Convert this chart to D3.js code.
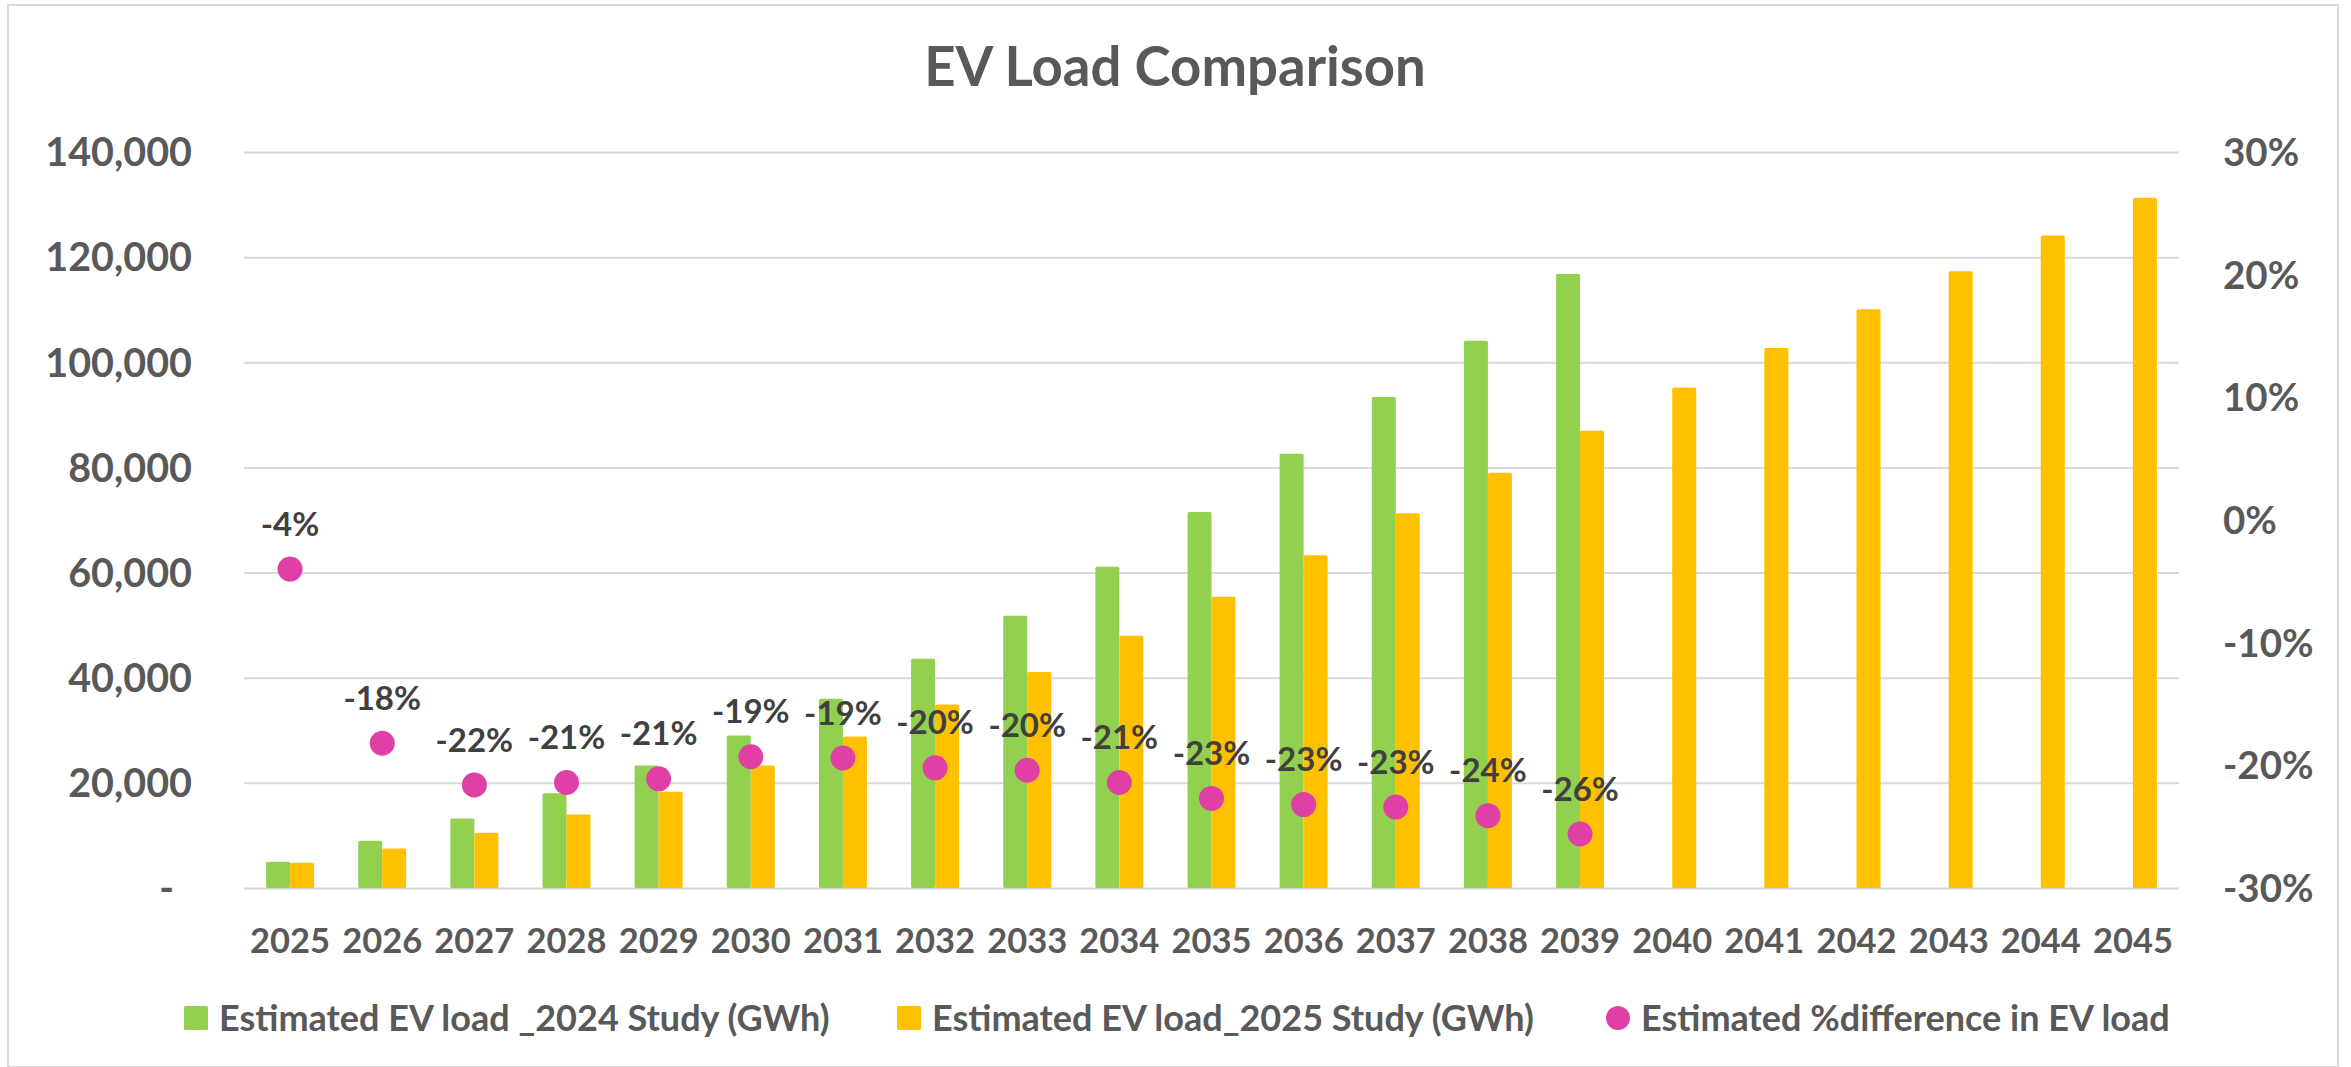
<!DOCTYPE html>
<html><head><meta charset="utf-8">
<script src="https://cdn.jsdelivr.net/npm/d3@7"></script>
<style>
html,body{margin:0;padding:0;background:#fff;}
svg{display:block;font-family:Lato,"Open Sans",sans-serif;}
</style></head><body>
<svg id="chart" width="2351" height="1067"></svg>
<script>
// ---- data ----
const years = ["2025","2026","2027","2028","2029","2030","2031","2032","2033","2034","2035","2036","2037","2038","2039","2040","2041","2042","2043","2044","2045"];
const study2024 = [5000, 9000, 13200, 18000, 23300, 29000, 36000, 43600, 51800, 61100, 71500, 82600, 93400, 104100, 116800, null, null, null, null, null, null];
const study2025 = [4800, 7500, 10500, 14000, 18300, 23300, 28800, 34900, 41100, 48000, 55400, 63300, 71300, 79000, 87000, 95200, 102700, 110100, 117300, 124100, 131300];
const pctDiff = [-4.0, -18.2, -21.6, -21.4, -21.1, -19.3, -19.4, -20.2, -20.4, -21.4, -22.7, -23.2, -23.4, -24.1, -25.6];
const pctLabels = ["-4%","-18%","-22%","-21%","-21%","-19%","-19%","-20%","-20%","-21%","-23%","-23%","-23%","-24%","-26%"];
const leftTicks = [0, 20000, 40000, 60000, 80000, 100000, 120000, 140000];
const rightTicks = [-30, -20, -10, 0, 10, 20, 30];
const seriesNames = ["Estimated EV load _2024 Study (GWh)", "Estimated EV load_2025 Study (GWh)", "Estimated %difference in EV load"];
const title = "EV Load Comparison";

// ---- style ----
const C_GREEN = "#92D050", C_GOLD = "#FFC000", C_PINK = "#E040A6";
const C_AXIS = "#595959", C_LABEL = "#404040", C_GRID = "#D9D9D9";

const m = {left: 244, right: 2179, top: 152, bottom: 888};
const svg = d3.select("#chart");

svg.append("rect").attr("x", 0).attr("y", 0).attr("width", 2351).attr("height", 1067).attr("fill", "#fff");
svg.append("rect").attr("x", 8).attr("y", 5).attr("width", 2330).attr("height", 1062)
  .attr("fill", "#fff").attr("stroke", C_GRID).attr("stroke-width", 2);

const x0 = d3.scaleBand().domain(years).range([m.left, m.right]);
const x1 = d3.scaleBand().domain(["s24", "s25"]).range([0, x0.bandwidth()]).paddingOuter(0.92);
const yL = d3.scaleLinear().domain([0, 140000]).range([m.bottom, m.top]);
const yR = d3.scaleLinear().domain([-30, 30]).range([m.bottom, m.top]);

// gridlines
const grid = svg.append("g").attr("transform", `translate(${m.left},0)`)
  .call(d3.axisLeft(yL).tickValues(leftTicks).tickSize(-(m.right - m.left)).tickFormat(""));
grid.select(".domain").remove();
grid.selectAll("line").attr("stroke", C_GRID).attr("stroke-width", 2);

// left axis labels
const fmt = d3.format(",");
const ax = svg.append("g").attr("transform", `translate(${m.left},0)`)
  .call(d3.axisLeft(yL).tickValues(leftTicks).tickSize(0).tickPadding(52).tickFormat(d => d === 0 ? "-" : fmt(d)));
ax.select(".domain").remove();
ax.selectAll("text").attr("font-family", "Lato, sans-serif").attr("font-weight", "bold").attr("font-size", 39.5)
  .attr("fill", C_AXIS).attr("dy", "0.35em");
ax.selectAll("text").filter(d => d === 0).attr("dx", -18);

// right axis labels
const axR = svg.append("g").attr("transform", `translate(${m.right},0)`)
  .call(d3.axisRight(yR).tickValues(rightTicks).tickSize(0).tickPadding(44).tickFormat(d => d + "%"));
axR.select(".domain").remove();
axR.selectAll("text").attr("font-family", "Lato, sans-serif").attr("font-weight", "bold").attr("font-size", 38.5)
  .attr("fill", C_AXIS).attr("dy", "0.35em");

// x axis labels
const axX = svg.append("g").attr("transform", `translate(0,${m.bottom})`)
  .call(d3.axisBottom(x0).tickSize(0));
axX.select(".domain").remove();
axX.selectAll("text").attr("font-family", "Lato, sans-serif").attr("font-weight", "bold").attr("font-size", 34.5)
  .attr("fill", C_AXIS).attr("y", 65).attr("dy", 0);

// bars
const rows = years.map((y, i) => ({year: y, s24: study2024[i], s25: study2025[i]}));
const barG = svg.append("g");
barG.selectAll("rect.g24").data(rows.filter(r => r.s24 != null)).join("rect").attr("class", "g24")
  .attr("x", d => x0(d.year) + x1("s24")).attr("width", x1.bandwidth())
  .attr("y", d => yL(d.s24)).attr("height", d => yL(0) - yL(d.s24))
  .attr("fill", C_GREEN).attr("rx", 1.5);
barG.selectAll("rect.g25").data(rows).join("rect").attr("class", "g25")
  .attr("x", d => x0(d.year) + x1("s25")).attr("width", x1.bandwidth())
  .attr("y", d => yL(d.s25)).attr("height", d => yL(0) - yL(d.s25))
  .attr("fill", C_GOLD).attr("rx", 1.5);

// pct points + labels
const pts = pctDiff.map((v, i) => ({year: years[i], v, label: pctLabels[i]}));
const ptG = svg.append("g");
ptG.selectAll("circle").data(pts).join("circle")
  .attr("cx", d => x0(d.year) + x0.bandwidth() / 2).attr("cy", d => yR(d.v)).attr("r", 12.5)
  .attr("fill", C_PINK);
ptG.selectAll("text").data(pts).join("text")
  .attr("x", d => x0(d.year) + x0.bandwidth() / 2).attr("y", d => yR(d.v) - 45).attr("dy", "0.35em")
  .attr("text-anchor", "middle").attr("font-weight", "bold").attr("font-size", 33).attr("fill", C_LABEL)
  .text(d => d.label);

// title
svg.append("text").attr("x", 1175).attr("y", 86).attr("text-anchor", "middle")
  .attr("font-weight", "bold").attr("font-size", 54.5).attr("fill", C_AXIS).text(title);

// legend
const legX = [184, 897, 1606];
const legColors = [C_GREEN, C_GOLD, C_PINK];
const leg = svg.append("g").selectAll("g").data(seriesNames).join("g")
  .attr("transform", (d, i) => `translate(${legX[i]},1018)`);
leg.each(function(d, i) {
  const g = d3.select(this);
  if (i < 2) g.append("rect").attr("x", 0).attr("y", -12).attr("width", 24).attr("height", 24).attr("rx", 1.5).attr("fill", legColors[i]);
  else g.append("circle").attr("cx", 12).attr("cy", 0).attr("r", 12).attr("fill", legColors[i]);
  g.append("text").attr("x", 35).attr("y", 0).attr("dy", "0.35em").attr("font-weight", "bold")
    .attr("font-size", 36).attr("fill", C_AXIS).text(d);
});
</script>
</body></html>
